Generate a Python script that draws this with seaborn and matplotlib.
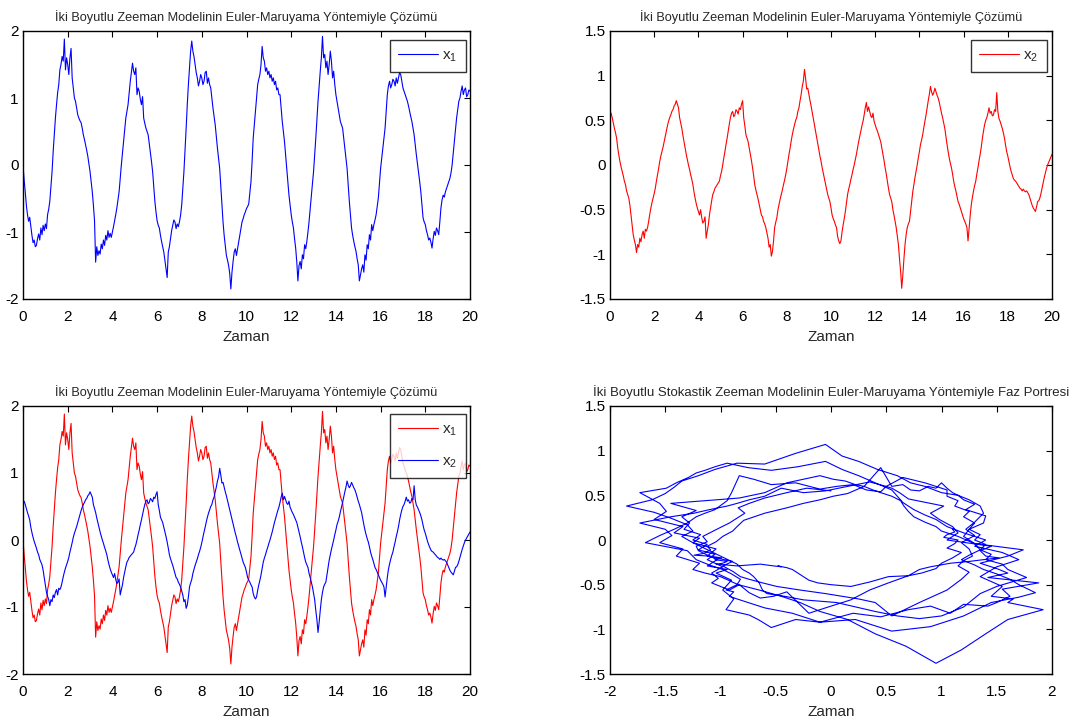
import numpy as np
import pandas as pd
import matplotlib
matplotlib.use("Agg")
import matplotlib.pyplot as plt
import seaborn as sns

# x1(t), every 0.05 time units (one row = one unit)
x1 = [
    0.0, -0.22, -0.4, -0.6, -0.74, -0.84, -0.78, -0.92, -1.05, -1.16, -1.12, -1.22, -1.2, -1.1, -1.03, -1.12, -0.94, -1.04, -0.9, -0.98,
    -0.88, -0.95, -0.74, -0.66, -0.54, -0.32, -0.1, 0.2, 0.45, 0.7, 0.9, 1.08, 1.2, 1.42, 1.5, 1.62, 1.55, 1.88, 1.42, 1.6,
    1.5, 1.35, 1.6, 1.74, 1.3, 1.15, 1.0, 0.95, 0.85, 0.75, 0.7, 0.66, 0.63, 0.55, 0.45, 0.38, 0.3, 0.22, 0.13, 0.02,
    -0.1, -0.25, -0.4, -0.6, -0.83, -1.45, -1.22, -1.35, -1.28, -1.33, -1.18, -1.25, -1.12, -1.2, -1.05, -1.12, -0.98, -1.08, -1.02, -1.08,
    -1.0, -0.92, -0.83, -0.74, -0.64, -0.52, -0.4, -0.2, 0.0, 0.18, 0.35, 0.52, 0.7, 0.8, 0.9, 1.08, 1.25, 1.38, 1.52, 1.4,
    1.35, 1.45, 1.05, 1.15, 1.1, 0.98, 0.9, 1.02, 0.7, 0.62, 0.55, 0.5, 0.45, 0.32, 0.2, 0.05, -0.1, -0.32, -0.54, -0.7,
    -0.83, -0.9, -0.94, -1.05, -1.14, -1.22, -1.3, -1.42, -1.55, -1.68, -1.3, -1.22, -1.1, -0.98, -0.9, -0.82, -0.85, -0.95, -0.88, -0.92,
    -0.85, -0.75, -0.6, -0.35, -0.1, 0.22, 0.55, 0.9, 1.2, 1.45, 1.7, 1.85, 1.7, 1.62, 1.5, 1.38, 1.3, 1.18, 1.25, 1.35,
    1.3, 1.2, 1.25, 1.38, 1.4, 1.22, 1.3, 1.2, 1.15, 1.0, 0.85, 0.72, 0.6, 0.42, 0.25, 0.1, -0.05, -0.32, -0.6, -0.85,
    -1.05, -1.2, -1.35, -1.42, -1.5, -1.62, -1.85, -1.6, -1.44, -1.3, -1.25, -1.35, -1.25, -1.15, -1.05, -0.95, -0.85, -0.8, -0.74, -0.7,
    -0.65, -0.62, -0.58, -0.42, -0.25, 0.05, 0.4, 0.6, 0.8, 1.0, 1.2, 1.28, 1.35, 1.5, 1.77, 1.6, 1.55, 1.4, 1.45, 1.35,
    1.4, 1.3, 1.35, 1.25, 1.3, 1.2, 1.25, 1.12, 1.15, 1.05, 1.05, 0.85, 0.65, 0.5, 0.35, 0.15, -0.05, -0.25, -0.45, -0.6,
    -0.74, -0.85, -0.94, -1.1, -1.24, -1.45, -1.73, -1.5, -1.44, -1.55, -1.34, -1.4, -1.19, -1.25, -1.14, -1.0, -0.84, -0.65, -0.45, -0.28,
    -0.1, 0.15, 0.4, 0.68, 0.95, 1.18, 1.4, 1.6, 1.92, 1.6, 1.65, 1.45, 1.55, 1.35, 1.5, 1.7, 1.55, 1.3, 1.4, 1.2,
    1.05, 0.95, 0.85, 0.75, 0.65, 0.6, 0.55, 0.4, 0.25, 0.1, -0.05, -0.3, -0.54, -0.75, -0.94, -1.05, -1.14, -1.22, -1.29, -1.4,
    -1.49, -1.73, -1.64, -1.55, -1.49, -1.6, -1.34, -1.42, -1.19, -1.25, -1.04, -1.12, -0.89, -0.98, -0.89, -0.82, -0.74, -0.62, -0.49, -0.28,
    -0.05, 0.1, 0.25, 0.4, 0.55, 0.8, 1.05, 1.18, 1.25, 1.15, 1.2, 1.28, 1.25, 1.18, 1.3, 1.22, 1.3, 1.38, 1.35, 1.25,
    1.15, 1.1, 1.05, 1.0, 0.95, 0.88, 0.8, 0.72, 0.65, 0.55, 0.45, 0.3, 0.15, 0.02, -0.1, -0.25, -0.4, -0.6, -0.79, -0.85,
    -0.89, -0.98, -1.04, -1.12, -1.09, -1.15, -1.24, -1.1, -0.99, -1.05, -0.94, -0.98, -1.04, -0.85, -0.64, -0.52, -0.45, -0.48, -0.4, -0.35,
    -0.3, -0.25, -0.2, -0.12, 0.0, 0.18, 0.35, 0.52, 0.7, 0.82, 0.95, 1.0, 1.1, 1.18, 1.05, 1.12, 1.15, 1.02, 1.05, 1.12,
    1.1,
]

# x2(t), same time grid (rows are roughly one unit each)
x2 = [
    0.55, 0.58, 0.53, 0.47, 0.41, 0.36, 0.3, 0.19, 0.11, 0.04, -0.02, -0.07, -0.12, -0.18, -0.22, -0.29, -0.33, -0.37, -0.45,
    -0.56, -0.66, -0.78, -0.84, -0.89, -0.98, -0.89, -0.92, -0.82, -0.86, -0.78, -0.74, -0.82, -0.72, -0.74, -0.7, -0.63, -0.55, -0.48, -0.42,
    -0.37, -0.32, -0.26, -0.18, -0.11, -0.04, 0.04, 0.1, 0.15, 0.2, 0.26, 0.32, 0.38, 0.44, 0.49, 0.53, 0.56, 0.6, 0.62, 0.66,
    0.68, 0.72, 0.68, 0.64, 0.53, 0.47, 0.41, 0.33, 0.26, 0.19, 0.12, 0.06, 0.0, -0.05, -0.11, -0.16, -0.22, -0.3, -0.37, -0.43,
    -0.48, -0.52, -0.56, -0.5, -0.59, -0.65, -0.63, -0.58, -0.82, -0.74, -0.67, -0.56, -0.48, -0.4, -0.33, -0.3, -0.26, -0.24, -0.22, -0.2,
    -0.18, -0.12, -0.07, 0.0, 0.08, 0.15, 0.23, 0.3, 0.38, 0.46, 0.53, 0.58, 0.6, 0.54, 0.56, 0.62, 0.6, 0.57, 0.64, 0.62,
    0.68, 0.72, 0.53, 0.44, 0.34, 0.3, 0.26, 0.19, 0.12, 0.05, -0.03, -0.12, -0.22, -0.28, -0.33, -0.38, -0.44, -0.5, -0.56, -0.58,
    -0.63, -0.66, -0.7, -0.76, -0.82, -0.92, -0.89, -1.02, -0.97, -0.85, -0.7, -0.64, -0.59, -0.5, -0.44, -0.38, -0.33, -0.28, -0.22, -0.17,
    -0.11, -0.04, 0.04, 0.12, 0.19, 0.27, 0.34, 0.4, 0.45, 0.5, 0.53, 0.6, 0.64, 0.72, 0.79, 0.88, 0.94, 1.07, 0.97, 0.85,
    0.86, 0.79, 0.72, 0.66, 0.59, 0.52, 0.45, 0.38, 0.31, 0.24, 0.17, 0.1, 0.04, -0.03, -0.09, -0.15, -0.21, -0.27,
    -0.33, -0.37, -0.41, -0.48, -0.56, -0.6, -0.63, -0.67, -0.7, -0.8, -0.85, -0.88, -0.85, -0.75, -0.67, -0.6, -0.52, -0.42, -0.33, -0.27,
    -0.22, -0.16, -0.11, -0.05, 0.0, 0.06, 0.12, 0.19, 0.26, 0.32, 0.38, 0.44, 0.49, 0.56, 0.64, 0.7, 0.6, 0.65, 0.6, 0.55,
    0.53, 0.58, 0.49, 0.45, 0.41, 0.38, 0.34, 0.3, 0.26, 0.19, 0.12, 0.05, -0.03, -0.1, -0.18, -0.26, -0.33, -0.37, -0.41, -0.5,
    -0.56, -0.63, -0.7, -0.8, -0.89, -1.05, -1.19, -1.38, -1.23, -1.05, -0.89, -0.78, -0.7, -0.66, -0.63, -0.52, -0.41, -0.3, -0.22, -0.14,
    -0.07, 0.0, 0.08, 0.15, 0.23, 0.28, 0.34, 0.42, 0.49, 0.56, 0.64, 0.72, 0.79, 0.88, 0.82, 0.78, 0.81, 0.86, 0.82, 0.78,
    0.75, 0.7, 0.64, 0.58, 0.53, 0.47, 0.41, 0.32, 0.23, 0.15, 0.08, 0.02, -0.03, -0.1, -0.18, -0.24, -0.29, -0.35, -0.41, -0.44,
    -0.48, -0.52, -0.56, -0.6, -0.63, -0.66, -0.7, -0.85, -0.7, -0.56, -0.44, -0.36, -0.29, -0.23, -0.18, -0.1, -0.03, 0.05, 0.12, 0.2,
    0.3, 0.38, 0.45, 0.5, 0.53, 0.58, 0.64, 0.58, 0.6, 0.55, 0.56, 0.62, 0.6, 0.81, 0.6, 0.52, 0.49, 0.45, 0.41, 0.36,
    0.3, 0.22, 0.15, 0.1, 0.04, -0.02, -0.07, -0.11, -0.15, -0.17, -0.18, -0.2, -0.22, -0.24, -0.26, -0.27, -0.29, -0.27, -0.29, -0.3,
    -0.29, -0.31, -0.33, -0.37, -0.41, -0.45, -0.48, -0.5, -0.52, -0.47, -0.41, -0.4, -0.37, -0.32, -0.26, -0.2, -0.14, -0.09, -0.04, 0.0,
    0.03, 0.06, 0.09, 0.12,
]

t = np.linspace(0, 20, len(x1))
df = pd.DataFrame({"t": t, "x1": x1, "x2": x2})

title_sol = "İki Boyutlu Zeeman Modelinin Euler-Maruyama Yöntemiyle Çözümü"
title_phase = "İki Boyutlu Stokastik Zeeman Modelinin Euler-Maruyama Yöntemiyle Faz Portresi"
ticks_x1 = [-2, -1, 0, 1, 2]
ticks_x2 = [-1.5, -1, -0.5, 0, 0.5, 1, 1.5]
ticks_phase_x = [-2, -1.5, -1, -0.5, 0, 0.5, 1, 1.5, 2]

sns.set_style("white")
plt.rcParams["font.family"] = ["Liberation Sans", "DejaVu Sans"]
plt.rcParams["axes.unicode_minus"] = False
plt.rcParams["mathtext.fontset"] = "custom"
plt.rcParams["mathtext.rm"] = "Liberation Sans"
plt.rcParams["mathtext.it"] = "Liberation Sans"

fig = plt.figure(figsize=(10.69, 7.22), dpi=100)
W, H = 1069, 722


def make_ax(left, top, right, bottom):
    return fig.add_axes([left / W, 1 - bottom / H, (right - left) / W, (bottom - top) / H])


def fmt(v):
    return "%g" % v


ax1 = make_ax(23, 31, 470, 299)
ax2 = make_ax(610, 31, 1052, 299)
ax3 = make_ax(23, 406, 470, 674)
ax4 = make_ax(610, 406, 1052, 674)

lw = 0.8
sns.lineplot(data=df, x="t", y="x1", ax=ax1, color="#0000ff", lw=lw, label="x$_1$")
sns.lineplot(data=df, x="t", y="x2", ax=ax2, color="#ff0000", lw=lw, label="x$_2$")
sns.lineplot(data=df, x="t", y="x1", ax=ax3, color="#ff0000", lw=lw, label="x$_1$")
sns.lineplot(data=df, x="t", y="x2", ax=ax3, color="#0000ff", lw=lw, label="x$_2$")
sns.lineplot(data=df, x="x1", y="x2", ax=ax4, color="#0000ff", lw=lw, sort=False, estimator=None)

# legend boxes: right edge / top edge in pixels, relative to each axes
for ax, (right_px, top_px, ax_l, ax_r, ax_t, ax_b) in (
    (ax1, (466, 40, 23, 470, 31, 299)),
    (ax2, (1047, 40, 610, 1052, 31, 299)),
    (ax3, (466, 414, 23, 470, 406, 674)),
):
    ax.set_xlim(0, 20)
    ax.set_xticks(np.arange(0, 21, 2))
    ax.set_title(title_sol, fontsize=9.2, pad=7)
    bx = (right_px - ax_l) / (ax_r - ax_l)
    by = 1 - (top_px - ax_t) / (ax_b - ax_t)
    leg = ax.legend(loc="upper right", bbox_to_anchor=(bx, by), borderaxespad=0,
                    fontsize=11, frameon=True, fancybox=False, edgecolor="black",
                    handlelength=2.6, handletextpad=0.3, borderpad=0.55, labelspacing=1.1)
    leg.get_frame().set_linewidth(1.0)

for ax in (ax1, ax3):
    ax.set_ylim(-2, 2)
    ax.set_yticks(ticks_x1)
    ax.set_yticklabels([fmt(v) for v in ticks_x1])
for ax in (ax2, ax4):
    ax.set_ylim(-1.5, 1.5)
    ax.set_yticks(ticks_x2)
    ax.set_yticklabels([fmt(v) for v in ticks_x2])

ax4.set_xlim(-2, 2)
ax4.set_xticks(ticks_phase_x)
ax4.set_xticklabels([fmt(v) for v in ticks_phase_x])
ax4.set_title(title_phase, fontsize=9.5, pad=7)

for ax in (ax1, ax2, ax3, ax4):
    ax.set_xlabel("Zaman", fontsize=11, labelpad=4)
    ax.set_ylabel("")
    ax.tick_params(direction="in", length=4, width=0.8, top=True, right=True,
                   labelsize=11, colors="black")
    ax.tick_params(axis="x", pad=8)
    ax.tick_params(axis="y", pad=3)
    for s in ax.spines.values():
        s.set_visible(True)
        s.set_color("black")
        s.set_linewidth(1.0)

fig.savefig("out.png", dpi=100)
